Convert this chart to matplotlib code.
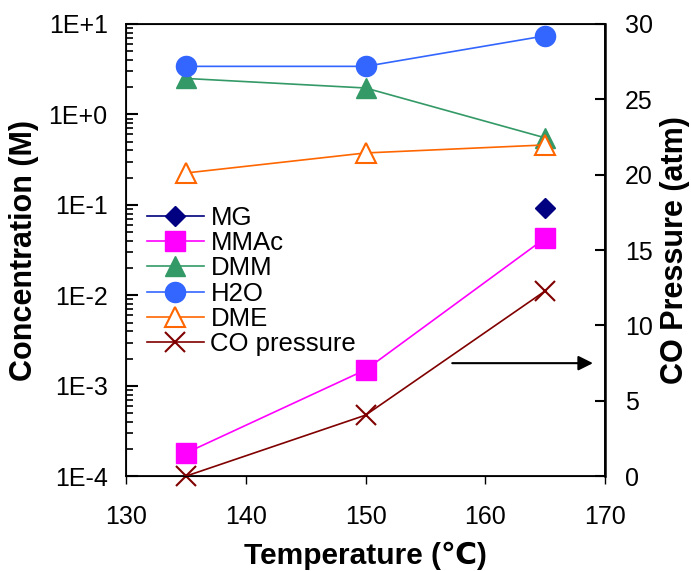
import matplotlib
matplotlib.use("Agg")
import matplotlib.pyplot as plt
from matplotlib.ticker import FixedLocator, LogLocator, NullFormatter

plt.rcParams["font.family"] = ["Liberation Sans", "DejaVu Sans"]

temps = [135, 150, 165]
mg_temp = [165]
mg = [0.092]
mmac = [1.8e-4, 1.5e-3, 0.043]
dmm = [2.5, 1.96, 0.55]
h2o = [3.4, 3.4, 7.4]
dme = [0.225, 0.375, 0.46]
co_pressure = [0.0, 4.05, 12.3]

left_ticks = [1e-4, 1e-3, 1e-2, 1e-1, 1e0, 1e1]
left_labels = ["1E-4", "1E-3", "1E-2", "1E-1", "1E+0", "1E+1"]

fig = plt.figure(figsize=(6.91, 5.71), dpi=100)
ax = fig.add_axes([0.182, 0.166, 0.694, 0.792])
ax2 = ax.twinx()

lw = 1.2
h_mg, = ax.plot(mg_temp, mg, color="#000080", marker="D", ms=10, lw=lw, label="MG")
h_mmac, = ax.plot(temps, mmac, color="#FF00FF", marker="s", ms=14, lw=lw, label="MMAc")
h_dmm, = ax.plot(temps, dmm, color="#339966", marker="^", ms=15, lw=lw, label="DMM")
h_h2o, = ax.plot(temps, h2o, color="#3366FF", marker="o", ms=14.5, lw=lw, label="H2O")
h_dme, = ax.plot(temps, dme, color="#FF6600", marker="^", ms=15, mfc="white",
                 mew=1.5, lw=lw, label="DME")
h_co, = ax2.plot(temps, co_pressure, color="#800000", marker="x", ms=15, mew=1.5,
                 lw=lw, label="CO pressure", clip_on=False)

ax.set_yscale("log")
ax.set_ylim(1e-4, 1e1)
ax.set_xlim(130, 170)
ax.yaxis.set_major_locator(FixedLocator(left_ticks))
ax.set_yticklabels(left_labels)
ax.yaxis.set_minor_locator(LogLocator(base=10, subs=range(2, 10)))
ax.yaxis.set_minor_formatter(NullFormatter())
ax.set_xticks([130, 140, 150, 160, 170])

ax2.set_ylim(0, 30)
ax2.set_yticks([0, 5, 10, 15, 20, 25, 30])

ax.tick_params(axis="y", which="major", direction="in", length=8.5, width=1.5,
               labelsize=18, pad=13)
ax.tick_params(axis="y", which="minor", direction="in", length=5, width=1.2)
ax.tick_params(axis="x", direction="out", length=6, width=1, labelsize=18, pad=15)
ax2.tick_params(axis="y", direction="in", length=7, width=1.5, labelsize=18, pad=14)
for sp in ax.spines.values():
    sp.set_linewidth(1.3)
ax2.spines["right"].set_linewidth(1.8)

ax.set_xlabel("Temperature (\u2103)", fontsize=21.5, fontweight="bold", labelpad=9)
ax.set_ylabel("Concentration (M)", fontsize=22, fontweight="bold", labelpad=7)
ax2.set_ylabel("CO Pressure (atm)", fontsize=22, fontweight="bold", labelpad=5)

ax2.annotate("", xy=(169.2, 7.5), xytext=(157, 7.5),
             arrowprops=dict(arrowstyle="-|>", color="black", lw=1.5, mutation_scale=22))

ax2.legend(handles=[h_mg, h_mmac, h_dmm, h_h2o, h_dme, h_co], loc="center left",
           bbox_to_anchor=(147 / 691, 1 - 281 / 571), bbox_transform=fig.transFigure,
           frameon=False, fontsize=18.5, handlelength=2.2, labelspacing=0.05,
           handletextpad=0.27, borderpad=0, borderaxespad=0)

fig.savefig("out.png", dpi=100)
